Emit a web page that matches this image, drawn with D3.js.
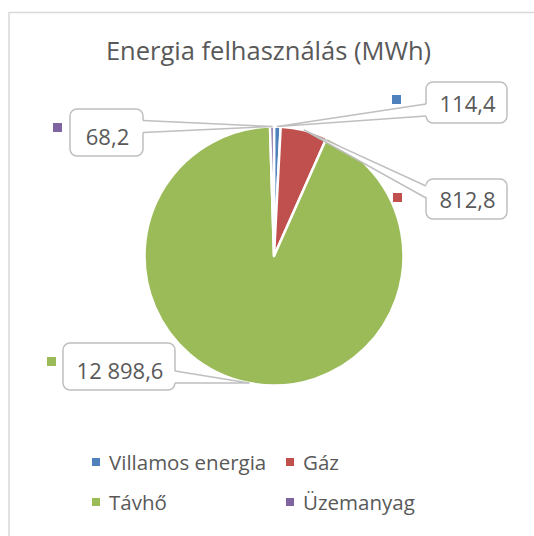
<!DOCTYPE html>
<html>
<head>
<meta charset="utf-8">
<script src="https://cdn.jsdelivr.net/npm/d3@7"></script>
<style>
  html, body { margin: 0; padding: 0; background: #fff; }
  svg text { font-family: "Open Sans", sans-serif; fill: #595959; }
</style>
</head>
<body>
<div id="chart"></div>
<script>
// data
var categories = ["Villamos energia", "Gáz", "Távhő", "Üzemanyag"];
var values = [114.4, 812.8, 12898.6, 68.2];
var colors = ["#4f81bd", "#c0504d", "#9bbb59", "#8064a2"];
var title = "Energia felhasználás (MWh)";

// label boxes (position only)
var labelLayout = {
    "Villamos energia": { box: [426, 82, 81, 41], key: [392, 95] },
    "Gáz":              { box: [426, 179, 81, 40], key: [393, 193] },
    "Távhő":            { box: [63, 343, 112, 47], key: [47, 357] },
    "Üzemanyag":        { box: [70, 109, 73, 47], key: [53, 123] }
};

var width = 534, height = 536;
var cx = 274, cy = 256, radius = 129.5;

var hu = d3.formatLocale({ decimal: ",", thousands: "\u00a0", grouping: [3], currency: ["", ""] });
var fmt = hu.format(",.1f");

var color = d3.scaleOrdinal().domain(categories).range(colors);

var svg = d3.select("#chart").append("svg")
    .attr("width", width)
    .attr("height", height);

// chart area border
svg.append("rect")
    .attr("x", 9).attr("y", 12.5)
    .attr("width", 540).attr("height", 540)
    .attr("fill", "none")
    .attr("stroke", "#d9d9d9")
    .attr("stroke-width", 1.5);

// title
svg.append("text")
    .attr("x", 268.5).attr("y", 60)
    .attr("text-anchor", "middle")
    .attr("font-size", 25.5)
    .text(title);

var rows = categories.map(function (c, i) { return { name: c, value: values[i] }; });

var pie = d3.pie().sort(null).value(function (d) { return d.value; });
var arc = d3.arc().innerRadius(0).outerRadius(radius);
var arcs = pie(rows);

var g = svg.append("g").attr("transform", "translate(" + cx + "," + cy + ")");
g.selectAll("path.slice")
    .data(arcs)
    .enter().append("path")
    .attr("class", "slice")
    .attr("d", arc)
    .attr("fill", function (d) { return color(d.data.name); })
    .attr("stroke", "#fff")
    .attr("stroke-width", 2.5)
    .attr("stroke-linejoin", "round");

// callouts
var labels = svg.append("g");
arcs.forEach(function (d) {
    var L = labelLayout[d.data.name];
    var bx = L.box[0], by = L.box[1], bw = L.box[2], bh = L.box[3];
    var mid = (d.startAngle + d.endAngle) / 2;
    var ax = cx + radius * Math.sin(mid);
    var ay = cy - radius * Math.cos(mid);

    var onLeft = ax < bx;        // tail leaves box from its left side
    var sideX = onLeft ? bx : bx + bw;
    var half = 6;
    var bc = Math.max(by + 7 + half, Math.min(by + bh - 7 - half, ay));
    var inset = onLeft ? 2 : -2;

    var grp = labels.append("g");
    grp.append("rect")
        .attr("x", bx).attr("y", by)
        .attr("width", bw).attr("height", bh)
        .attr("rx", 7).attr("ry", 7)
        .attr("fill", "#fff")
        .attr("stroke", "#bfbfbf")
        .attr("stroke-width", 1.5);
    grp.append("path")
        .attr("d", "M" + (sideX + inset) + "," + (bc - half) + "L" + ax + "," + ay +
                   "L" + (sideX + inset) + "," + (bc + half) + "Z")
        .attr("fill", "#fff");
    grp.append("path")
        .attr("d", "M" + sideX + "," + (bc - half) + "L" + ax + "," + ay +
                   "L" + sideX + "," + (bc + half))
        .attr("fill", "none")
        .attr("stroke", "#bfbfbf")
        .attr("stroke-width", 1.5)
        .attr("stroke-linejoin", "round");

    grp.append("text")
        .attr("x", bx + bw / 2 + 1)
        .attr("y", by + bh - 11.5)
        .attr("text-anchor", "middle")
        .attr("font-size", 22)
        .text(fmt(d.data.value));

    grp.append("rect")
        .attr("x", L.key[0]).attr("y", L.key[1])
        .attr("width", 9).attr("height", 9)
        .attr("fill", color(d.data.name));
});

// legend
var legendPos = [[92, 470], [286, 470], [92, 510], [286, 510]];
var legend = svg.append("g").selectAll("g")
    .data(categories)
    .enter().append("g")
    .attr("transform", function (d, i) {
        return "translate(" + legendPos[i][0] + "," + legendPos[i][1] + ")";
    });
legend.append("rect")
    .attr("x", 0).attr("y", -12)
    .attr("width", 8).attr("height", 8)
    .attr("fill", function (d) { return color(d); });
legend.append("text")
    .attr("x", 17).attr("y", 0)
    .attr("font-size", 20.5)
    .text(function (d) { return d; });
</script>
</body>
</html>
